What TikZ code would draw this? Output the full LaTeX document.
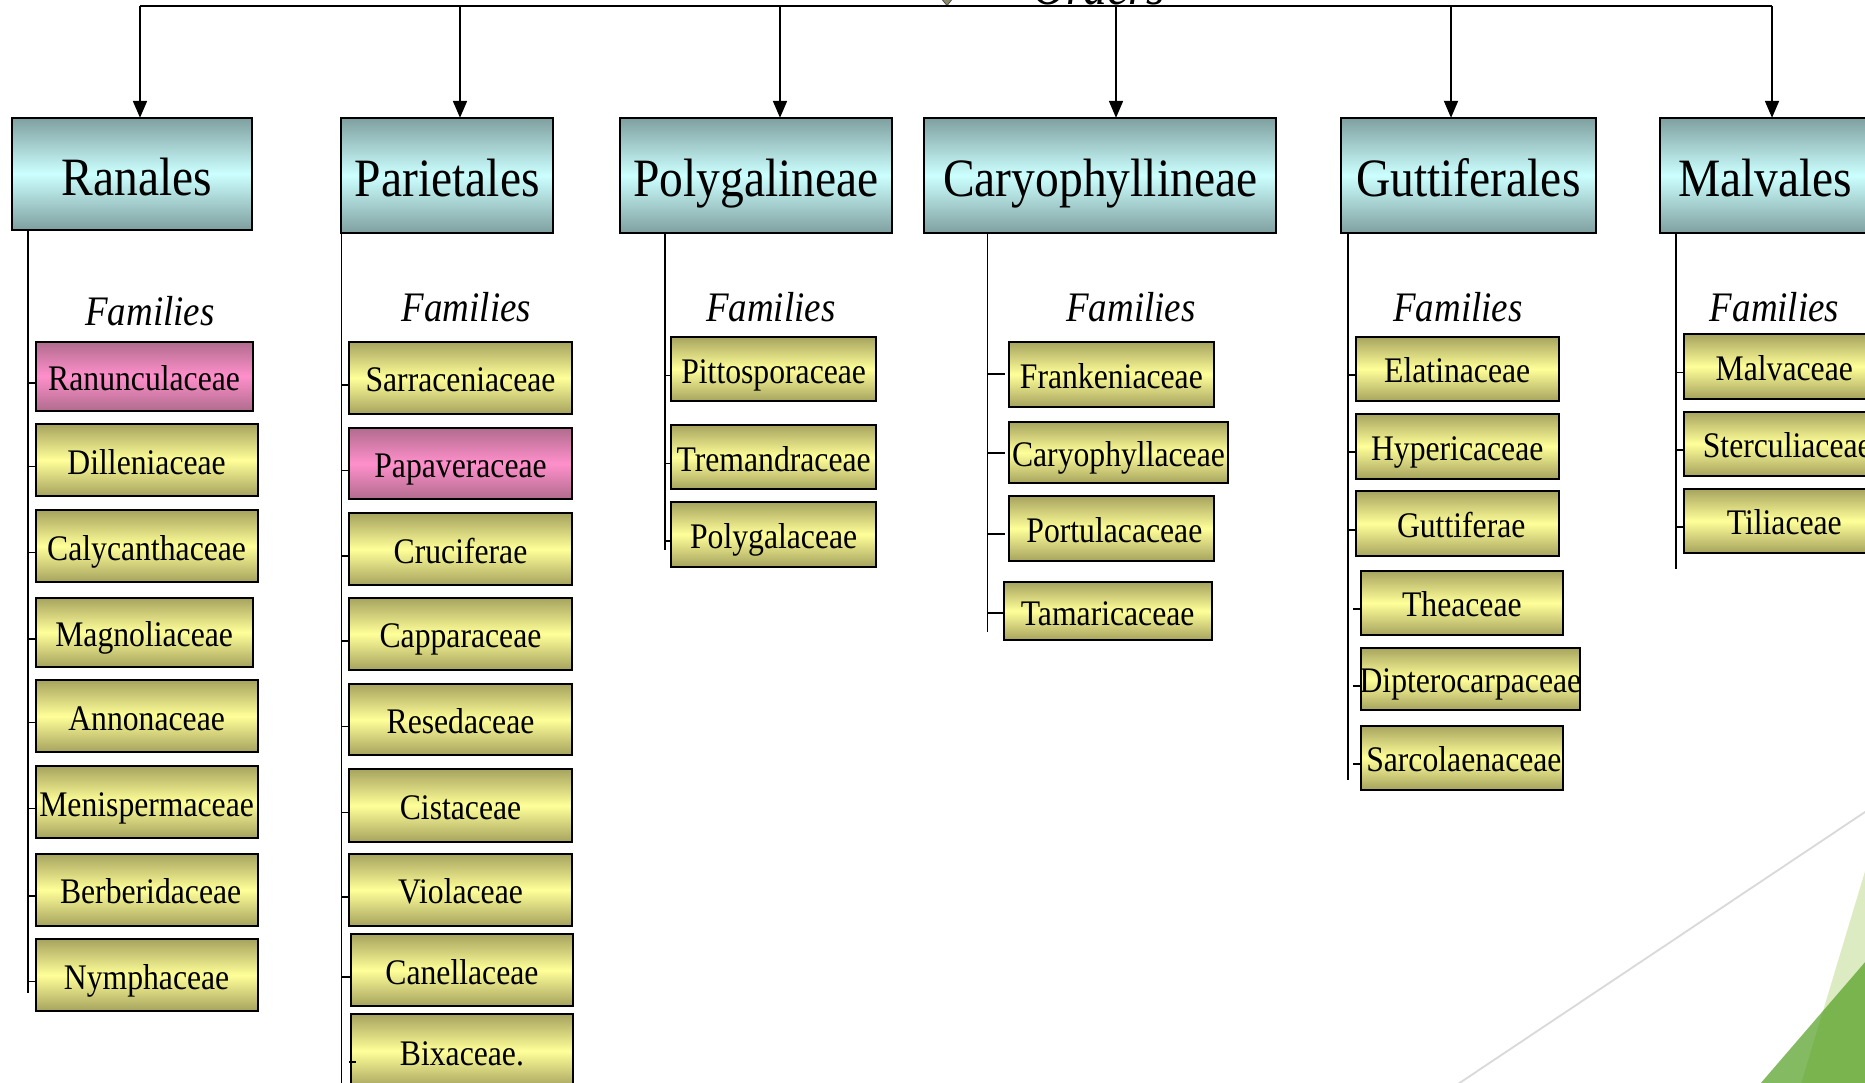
\documentclass[tikz,border=0pt]{standalone}
\usepackage{fontspec}
\setmainfont{Liberation Serif}[FakeStretch=0.88]
\usetikzlibrary{arrows.meta}
\definecolor{tealdark}{HTML}{7F9F9F}
\definecolor{teallight}{HTML}{CCFFFF}
\definecolor{yeldark}{HTML}{A6A35E}
\definecolor{yellight}{HTML}{FFFF99}
\definecolor{pinkdark}{HTML}{B06C8E}
\definecolor{pinklight}{HTML}{FF8FCB}
\definecolor{decoline}{HTML}{D9D9D9}
\definecolor{lightgreen}{HTML}{DDEBC3}
\definecolor{darkgreen}{RGB}{80,158,30}
\definecolor{arrowgrey}{HTML}{8C8A6A}
\newcommand\BoxAt[7]{%
  \node[#2, minimum width={(#5)-(#3)}, minimum height={(#6)-(#4)}] (#1)
    at ({((#3)+(#5))/2},{((#4)+(#6))/2}) {\makebox[0pt]{#7}};}
\newcommand\TickAt[4][]{%
  \path ([yshift=#4]#3.west) coordinate (tk);
  \draw[conn,#1] (tk -| #2) -- (tk);}
\tikzset{
  orderbox/.style={draw=black, line width=2pt, inner sep=0pt, outer sep=0pt,
    top color=tealdark, bottom color=tealdark, middle color=teallight,
    font=\fontsize{54}{60}\selectfont, text height=43pt, text depth=0pt},
  fambox/.style={draw=black, line width=2pt, inner sep=0pt, outer sep=0pt,
    top color=yeldark, bottom color=yeldark, middle color=yellight,
    font=\fontsize{36}{40}\selectfont, text height=28pt, text depth=0pt},
  pinkbox/.style={fambox, top color=pinkdark, bottom color=pinkdark, middle color=pinklight},
  famlabel/.style={inner sep=0pt, anchor=base, font=\fontsize{42}{48}\selectfont\itshape},
  conn/.style={line width=1.8pt, draw=black},
  toparrow/.style={line width=2pt, draw=black, -{Triangle[width=14pt,length=17pt]}},
}
\begin{document}
\begin{tikzpicture}[x=1pt,y=-1pt]
\useasboundingbox (0,0) rectangle (1865,1082);
\clip (0,0) rectangle (1865,1082);
\fill[white] (0,0) rectangle (1865,1082);

% decoration bottom right
\draw[decoline, line width=1.8pt] (1458,1084) -- (1868,810);
\fill[lightgreen] (1866,868) -- (1801,1084) -- (1866,1084) -- cycle;
\fill[darkgreen, opacity=0.7] (1866,961) -- (1760,1084) -- (1866,1084) -- cycle;

% top title fragment
\node[inner sep=0pt, anchor=base, font=\fontsize{54}{60}\selectfont\itshape] (orders) at (1099,4) {Orders};
\fill[arrowgrey, draw=black!70, line width=0.8pt] (940,-3) -- (954,-3) -- (947,5.5) -- cycle;

% order boxes
\BoxAt{ranales}{orderbox}{11.9}{117.8}{252.2}{229.6}{\hspace*{10pt}Ranales}
\BoxAt{pariet}{orderbox}{341.4}{117.8}{553.1}{233.1}{Parietales}
\BoxAt{polygal}{orderbox}{619.7}{117.8}{892.1}{233.1}{Polygalineae}
\BoxAt{caryoph}{orderbox}{924.2}{117.8}{1276.2}{233.1}{Caryophyllineae}
\BoxAt{guttif}{orderbox}{1340.5}{117.8}{1596.2}{233.1}{Guttiferales}
\BoxAt{malvales}{orderbox}{1660.4}{117.8}{1870}{233.1}{Malvales}

% top connector
\coordinate (t1) at (140,6);
\coordinate (t2) at (460,6);
\coordinate (t3) at (780,6);
\coordinate (t4) at (1116,6);
\coordinate (t5) at (1451,6);
\coordinate (t6) at (1772,6);
\draw[conn, line width=2pt] (t1) -- (t6);
\draw[toparrow] (t1) -- (t1 |- ranales.north);
\draw[toparrow] (t2) -- (t2 |- pariet.north);
\draw[toparrow] (t3) -- (t3 |- polygal.north);
\draw[toparrow] (t4) -- (t4 |- caryoph.north);
\draw[toparrow] (t5) -- (t5 |- guttif.north);
\draw[toparrow] (t6) -- (t6 |- malvales.north);

% Families labels
\node[famlabel] (fR) at (150,325) {Families};
\node[famlabel] (fP) at (466.5,321) {Families};
\node[famlabel] (fG) at (770.7,321) {Families};
\node[famlabel] (fC) at (1131,321) {Families};
\node[famlabel] (fU) at (1458,321) {Families};
\node[famlabel] (fM) at (1774.6,321) {Families};

% Ranales families
\BoxAt{ranun}{pinkbox}{35.7}{341.7}{252.5}{410.5}{Ranunculaceae}
\BoxAt{dill}{fambox}{35.7}{424}{257.5}{496}{Dilleniaceae}
\BoxAt{calyc}{fambox}{35.7}{510}{257.5}{582}{Calycanthaceae}
\BoxAt{magn}{fambox}{35.7}{597.7}{252.5}{666.7}{Magnoliaceae}
\BoxAt{anno}{fambox}{35.7}{680}{257.5}{752}{Annonaceae}
\BoxAt{meni}{fambox}{35.7}{766}{257.5}{838}{Menispermaceae}
\BoxAt{berb}{fambox}{35.7}{853.7}{257.5}{926}{\hspace*{8pt}Berberidaceae}
\BoxAt{nymph}{fambox}{35.7}{939}{257.5}{1011}{Nymphaceae}
\coordinate (lR) at (28,993);
\draw[conn] (lR |- ranales.south) -- (lR);
\foreach \b in {ranun,dill,calyc,magn,anno,meni,berb,nymph}{\TickAt{lR}{\b}{-6.5pt}}

% Parietales families
\BoxAt{sarr}{fambox}{349.4}{341.7}{571.6}{414}{Sarraceniaceae}
\BoxAt{papa}{pinkbox}{349.4}{427.7}{571.6}{499.3}{Papaveraceae}
\BoxAt{cruc}{fambox}{349.4}{513.3}{571.6}{585.3}{Cruciferae}
\BoxAt{capp}{fambox}{349.4}{597.7}{571.6}{670}{Capparaceae}
\BoxAt{rese}{fambox}{349.4}{684}{571.6}{755}{Resedaceae}
\BoxAt{cist}{fambox}{349.4}{769}{571.6}{842}{Cistaceae}
\BoxAt{viol}{fambox}{349.4}{853.7}{571.6}{926}{Violaceae}
\BoxAt{cane}{fambox}{351}{934}{572.8}{1006}{Canellaceae}
\BoxAt{bixa}{fambox}{351}{1014}{572.8}{1088}{Bixaceae.}
\coordinate (lP) at (341.4,1090);
\draw[conn] (lP |- pariet.south) -- (lP);
\foreach \b in {sarr,papa,cruc,capp,rese,cist,viol,cane}{\TickAt{lP}{\b}{-7pt}}
\draw[conn] ([xshift=-2.5pt,yshift=-11pt]bixa.west) -- ([xshift=5pt,yshift=-11pt]bixa.west);

% Polygalineae families
\BoxAt{pitt}{fambox}{671.4}{336.7}{875.9}{401.3}{Pittosporaceae}
\BoxAt{trem}{fambox}{671.4}{424.7}{875.9}{489.3}{Tremandraceae}
\BoxAt{polyg}{fambox}{671.4}{502}{875.9}{566.7}{Polygalaceae}
\coordinate (lG) at (664.7,550);
\draw[conn] (lG |- polygal.south) -- (lG);
\foreach \b in {pitt,trem,polyg}{\TickAt{lG}{\b}{-6.5pt}}

% Caryophyllineae families
\BoxAt{fran}{fambox}{1008.9}{341.7}{1213.8}{406.7}{Frankeniaceae}
\BoxAt{cary}{fambox}{1008.9}{422}{1228}{483.3}{Caryophyllaceae}
\BoxAt{port}{fambox}{1008.9}{496}{1213.8}{561}{\hspace*{6pt}Portulacaceae}
\BoxAt{tama}{fambox}{1003.6}{582}{1211.6}{640}{Tamaricaceae}
\coordinate (lC) at (987.5,632.3);
\draw[conn] (lC |- caryoph.south) -- (lC);
\TickAt[shorten >=4pt]{lC}{fran}{0pt}
\TickAt[shorten >=4pt]{lC}{cary}{0pt}
\TickAt[shorten >=4pt]{lC}{port}{-5.5pt}
\TickAt{lC}{tama}{-2pt}

% Guttiferales families
\BoxAt{elat}{fambox}{1355.9}{336.5}{1558.5}{401.4}{Elatinaceae}
\BoxAt{hype}{fambox}{1355.9}{413.7}{1558.5}{478.5}{Hypericaceae}
\BoxAt{gutt}{fambox}{1355.9}{490.8}{1558.5}{556.4}{\hspace*{8pt}Guttiferae}
\BoxAt{thea}{fambox}{1360.7}{570.5}{1563}{635.4}{Theaceae}
\BoxAt{dipt}{fambox}{1360.7}{647.6}{1580}{710}{Dipterocarpaceae}
\BoxAt{sarc}{fambox}{1360.7}{725.5}{1563}{789.7}{\hspace*{4pt}Sarcolaenaceae}
\coordinate (lU) at (1347.6,780);
\draw[conn] (lU |- guttif.south) -- (lU);
\foreach \b in {elat,hype,gutt}{\TickAt{lU}{\b}{-6pt}}
\foreach \b/\s in {thea/-6pt,dipt/-7pt,sarc/-6pt}{%
  \draw[conn] ([xshift=-7.5pt,yshift=\s]\b.west) -- ([yshift=\s]\b.west);}

% Malvales families
\BoxAt{malv}{fambox}{1683.5}{334.4}{1885}{398.6}{Malvaceae}
\BoxAt{ster}{fambox}{1683.5}{411.5}{1885}{475.7}{\hspace*{6pt}Sterculiaceae}
\BoxAt{tili}{fambox}{1683.5}{488.7}{1885}{552.9}{Tiliaceae}
\coordinate (lM) at (1675.9,569.4);
\draw[conn] (lM |- malvales.south) -- (lM);
\foreach \b in {malv,ster,tili}{\TickAt{lM}{\b}{-6pt}}
\end{tikzpicture}
\end{document}
